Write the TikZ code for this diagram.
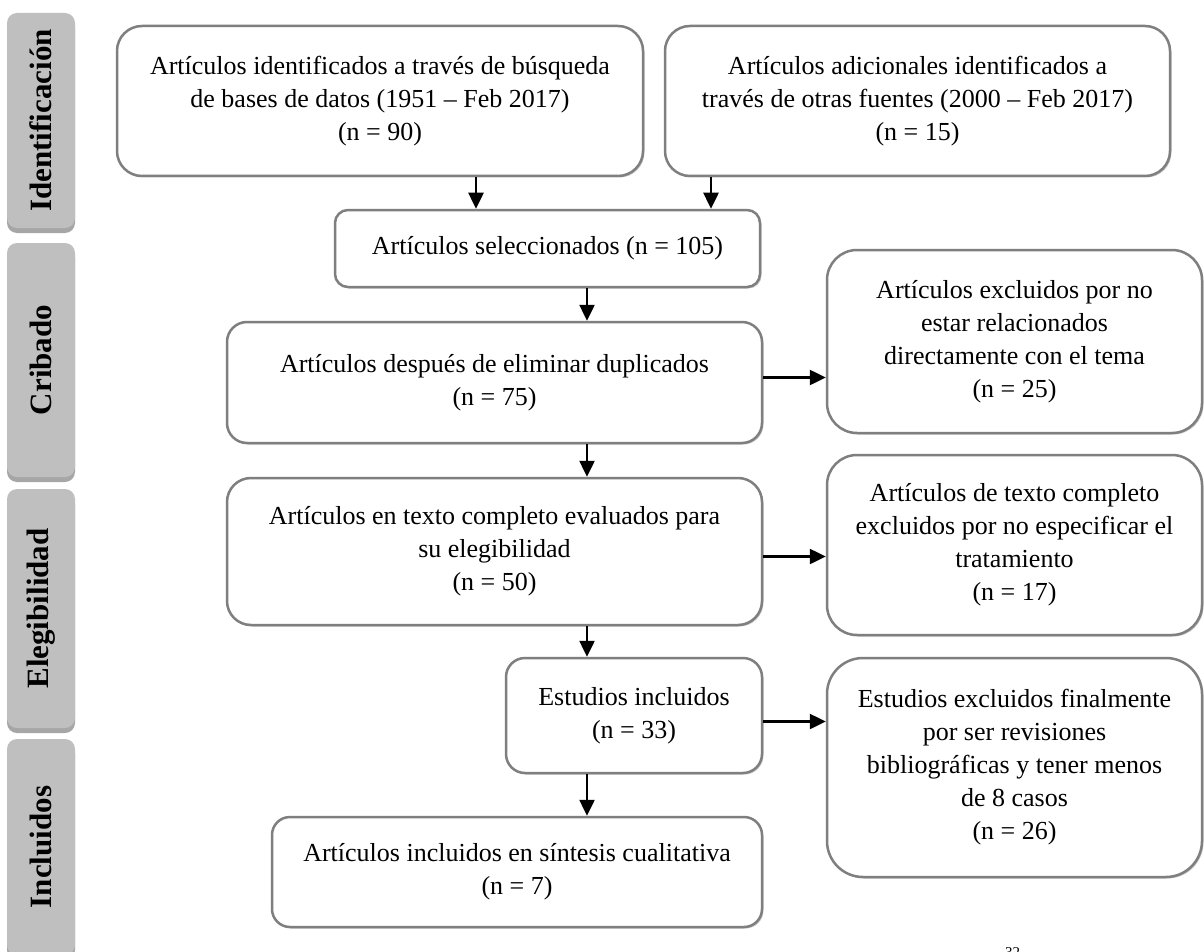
\documentclass[tikz,border=0pt]{standalone}
\usepackage{fontspec}
\setmainfont{Liberation Serif}
\usetikzlibrary{arrows.meta,shadows}
\definecolor{boxline}{HTML}{7F7F7F}
\definecolor{barfill}{HTML}{BFBFBF}
\definecolor{barshadow}{HTML}{A6A6A6}
\begin{document}
\begin{tikzpicture}[x=1pt,y=-1pt,
  box/.style={draw=boxline, line width=2.5pt, fill=white, align=center, inner sep=0pt,
    font=\fontsize{26}{33}\selectfont,
    drop shadow={shadow xshift=1.5pt, shadow yshift=-1.5pt, fill=black!20, opacity=1}},
  bar/.style={fill=barfill, rounded corners=10pt, inner sep=0pt, minimum width=68pt,
    font=\fontsize{31}{34}\selectfont\bfseries,
    drop shadow={shadow xshift=0pt, shadow yshift=-5pt, fill=barshadow, opacity=1}},
  arr/.style={line width=2.5pt, -{Triangle[length=16pt,width=15pt]}}
]
\useasboundingbox (0,0) rectangle (1204,952);
\fill[white] (0,0) rectangle (1204,952);

% phase bars
\node[bar, minimum height=215pt] (ph1) at (41,120.5) {\rotatebox{90}{Identificación}};
\node[bar, minimum height=234pt] (ph2) at (41,360) {\rotatebox{90}{Cribado}};
\node[bar, minimum height=239pt] (ph3) at (41,608.5) {\rotatebox{90}{Elegibilidad}};
\node[bar, minimum height=216pt] (ph4) at (41,847) {\rotatebox{90}{Incluidos}};

% boxes
\node[box, rounded corners=25pt, minimum width=526pt, minimum height=150pt] (b1) at (380,101)
  {Artículos identificados a través de búsqueda\\de bases de datos (1951 – Feb 2017)\\(n = 90)};
\node[box, rounded corners=25pt, minimum width=505pt, minimum height=150pt] (b2) at (917.5,101)
  {Artículos adicionales identificados a\\través de otras fuentes (2000 – Feb 2017)\\(n = 15)};
\node[box, rounded corners=13pt, minimum width=425pt, minimum height=77pt] (sel) at (547.5,248.5)
  {Artículos seleccionados (n = 105)};
\node[box, rounded corners=20pt, minimum width=535pt, minimum height=121pt] (dup) at (494.5,382.5)
  {Artículos después de eliminar duplicados\\(n = 75)};
\node[box, rounded corners=30pt, minimum width=375pt, minimum height=183pt] (ex1) at (1014.5,341.5)
  {Artículos excluidos por no\\estar relacionados\\directamente con el tema\\(n = 25)};
\node[box, rounded corners=24pt, minimum width=535pt, minimum height=147pt] (elig) at (494.5,551.5)
  {Artículos en texto completo evaluados para\\su elegibilidad\\(n = 50)};
\node[box, rounded corners=30pt, minimum width=375pt, minimum height=180pt] (ex2) at (1014.5,545)
  {Artículos de texto completo\\excluidos por no especificar el\\tratamiento\\(n = 17)};
\node[box, rounded corners=19pt, minimum width=256pt, minimum height=115pt] (incl) at (634,715.5)
  {Estudios incluidos\\(n = 33)};
\node[box, rounded corners=36pt, minimum width=375pt, minimum height=219pt] (ex3) at (1014.5,767.5)
  {Estudios excluidos finalmente\\por ser revisiones\\bibliográficas y tener menos\\de 8 casos\\(n = 26)};
\node[box, rounded corners=18pt, minimum width=490pt, minimum height=110pt] (fin) at (517,872)
  {Artículos incluidos en síntesis cualitativa\\(n = 7)};

\node[anchor=base west, inner sep=0pt, font=\fontsize{15}{18}\selectfont] (note) at (1005,957) {32};

% connectors
\coordinate (c1) at (476,0);
\coordinate (c2) at (711,0);
\coordinate (c3) at (587,0);
\draw[arr] (b1.south -| c1) -- (sel.north -| c1);
\draw[arr] (b2.south -| c2) -- (sel.north -| c2);
\draw[arr] (sel.south -| c3) -- (dup.north -| c3);
\draw[arr] (dup.south -| c3) -- (elig.north -| c3);
\draw[arr] (elig.south -| c3) -- (incl.north -| c3);
\draw[arr] (incl.south -| c3) -- (fin.north -| c3);
\draw[arr] ([yshift=5pt]dup.east) -- ([yshift=5pt]dup.east -| ex1.west);
\draw[arr] ([yshift=-5pt]elig.east) -- ([yshift=-5pt]elig.east -| ex2.west);
\draw[arr] ([yshift=-6pt]incl.east) -- ([yshift=-6pt]incl.east -| ex3.west);
\end{tikzpicture}
\end{document}
